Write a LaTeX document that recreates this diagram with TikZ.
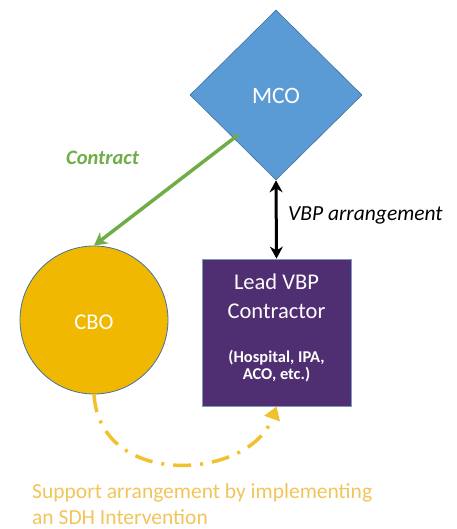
\documentclass[tikz,border=0pt]{standalone}
\usepackage{fontspec}
\setmainfont{Carlito}
\usetikzlibrary{shapes.geometric,arrows.meta}
\definecolor{mcoblue}{HTML}{5B9BD5}
\definecolor{edgeblue}{HTML}{41719C}
\definecolor{cboyellow}{HTML}{F0B800}
\definecolor{boxpurple}{HTML}{4F2E72}
\definecolor{arrgreen}{HTML}{70AD47}
\definecolor{dashyellow}{HTML}{F2C12E}
\definecolor{textgold}{HTML}{F2C45A}
\tikzset{
  mcoshape/.style={diamond, fill=mcoblue, draw=edgeblue, line width=0.6pt, minimum width=172pt, minimum height=170pt, inner sep=0pt},
  cboshape/.style={circle, fill=cboyellow, draw=edgeblue, line width=0.8pt, minimum size=148pt, inner sep=0pt},
  vbpbox/.style={rectangle, fill=boxpurple, draw=edgeblue!70, line width=0.8pt, minimum width=149pt, minimum height=147pt, inner sep=0pt},
  whitebig/.style={text=white, font=\fontsize{22.5}{26}\selectfont, anchor=base, inner sep=0pt},
  whitesmall/.style={text=white, font=\bfseries\fontsize{16.5}{18}\selectfont, anchor=base, inner sep=0pt},
  goldtext/.style={text=textgold, font=\fontsize{21.5}{26}\selectfont, anchor=base west, inner sep=0pt},
}
\begin{document}
\begin{tikzpicture}[x=1pt,y=-1pt]
\useasboundingbox (0,0) rectangle (456,529);
\node[mcoshape] (mco) at (276,95) {};
\node[whitebig, font=\fontsize{23.5}{26}\selectfont] (mcotxt) at (276,104) {MCO};
\node[cboshape] (cbo) at (94,320) {};
\node[whitebig] (cbotxt) at (94,329) {CBO};
\node[vbpbox] (lead) at (276.5,332.5) {};
\node[whitebig] (lead1) at (276.5,289) {Lead VBP};
\node[whitebig] (lead2) at (276.5,318) {Contractor};
\node[whitesmall] (sub1) at (276.5,362) {(Hospital, IPA,};
\node[whitesmall] (sub2) at (276.5,379) {ACO, etc.)};
\coordinate (gstart) at (238,135);
\draw[arrgreen, line width=3.5pt, -{Stealth[length=13pt,width=14pt]}] (gstart) -- (cbo.north);
\node[text=arrgreen, font=\bfseries\itshape\fontsize{20.5}{24}\selectfont, inner sep=0pt, anchor=base] (contract) at (102.5,165) {Contract};
\draw[black, line width=3pt, {Stealth[length=12pt,width=13pt]}-{Stealth[length=12pt,width=13pt]}] (mco.south) -- (lead.north);
\node[font=\itshape\fontsize{21.5}{24}\selectfont, inner sep=0pt, anchor=base west] (vbparr) at (288,220) {VBP arrangement};
\draw[dashyellow, line width=3.5pt, dash pattern=on 18pt off 9pt on 3pt off 9pt, -{Triangle[length=13pt,width=16pt]}]
  (cbo.south) .. controls (100,490) and (250,480) .. (lead.south);
\node[goldtext] (support1) at (32,498) {Support arrangement by implementing};
\node[goldtext] (support2) at (32,524) {an SDH Intervention};
\end{tikzpicture}
\end{document}
